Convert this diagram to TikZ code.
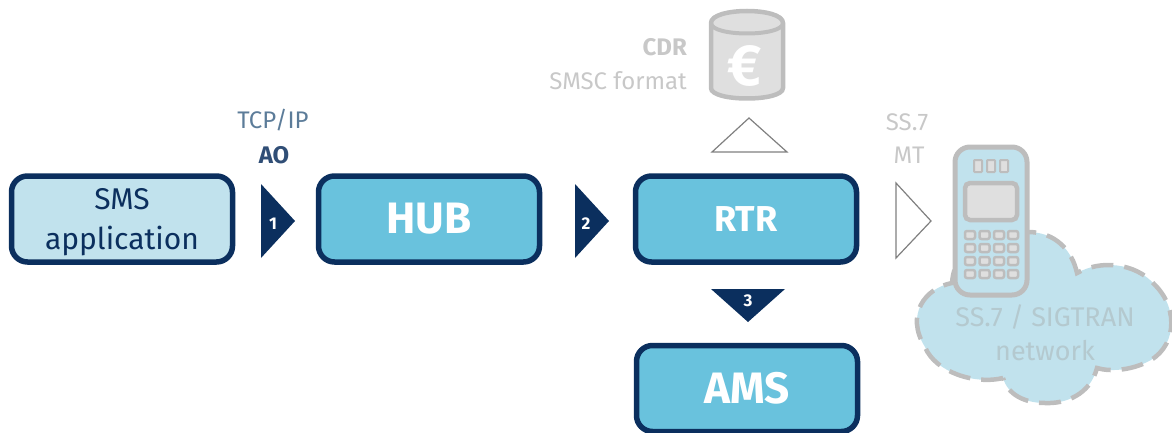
\documentclass[tikz,border=0pt]{standalone}
\usepackage{fontspec}
\setmainfont{Fira Sans}
\definecolor{navy}{HTML}{0B2F5E}
\definecolor{lightb}{HTML}{C1E2ED}
\definecolor{midb}{HTML}{69C2DD}
\definecolor{grayl}{HTML}{BDBDBD}
\definecolor{grayf}{HTML}{DFDFDF}
\definecolor{grayt}{HTML}{C8C8C8}
\definecolor{grayc}{HTML}{B4C9CF}
\definecolor{bluet}{HTML}{5C7C99}
\tikzset{
  boxbase/.style={draw=navy,line width=5.5pt,rounded corners=16pt,minimum width=221pt,inner sep=0pt,text=white},
  midbox/.style={boxbase,fill=midb,minimum height=86pt,font=\fontsize{44}{46}\selectfont\bfseries},
  appbox/.style={boxbase,fill=lightb,minimum height=86pt},
  apptext/.style={inner sep=0pt,text=navy,align=center,font=\fontsize{30}{40}\selectfont},
  lab/.style={inner sep=0pt,font=\fontsize{24}{26}\selectfont},
  navytri/.style={fill=navy,draw=none},
  opentri/.style={draw=gray,line width=1.2pt,fill=white,line join=miter},
  num/.style={inner sep=0pt,text=white,font=\fontsize{17}{17}\selectfont\bfseries},
  phonepart/.style={draw=grayl,fill=grayf,line width=3pt},
  phonekey/.style={draw=grayl,fill=grayf,line width=2.5pt,rounded corners=2pt,minimum width=10pt,minimum height=8pt,inner sep=0pt},
  phonebtn/.style={draw=grayl,fill=grayf,line width=2pt,rounded corners=0.8pt,minimum width=8pt,minimum height=12pt,inner sep=0pt},
}
\begin{document}
\begin{tikzpicture}[x=1pt,y=-1pt]
\useasboundingbox (0,0) rectangle (1172,433);
\node[appbox] (sms) at (122,219) {};
\node[apptext] (smst) at (122,222) {SMS\\application};
\node[midbox] (hub) at (429,219) {HUB};
\node[midbox] (rtr) at (746,219) {\fontsize{36}{38}\selectfont RTR};
\node[midbox] (ams) at (747,388.5) {AMS};
% navy triangles
\fill[navytri] (261,184) -- (295,221) -- (261,258) -- cycle;
\node[num] (n1) at (273,224) {1};
\fill[navytri] (575,184) -- (609,221) -- (575,258) -- cycle;
\node[num] (n2) at (586,224) {2};
\fill[navytri] (711,289) -- (785,289) -- (748,322) -- cycle;
\node[num] (n3) at (748,301) {3};
% open triangles
\draw[opentri] (712,152) -- (749,118) -- (787,152) -- cycle;
\draw[opentri] (896,183) -- (931,221) -- (896,258) -- cycle;
% labels
\node[lab,text=bluet] (tcp) at (273,120) {TCP/IP};
\node[lab,text=navy!85] (ao) at (274,155) {\bfseries AO};
\node[lab,text=grayt] (ss) at (907,122) {SS.7};
\node[lab,text=grayt] (mt) at (909,155) {MT};
\node[lab,text=grayt,anchor=east] (cdr) at (687,47) {\bfseries CDR};
\node[lab,text=grayt,anchor=east] (fmt) at (687,81) {SMSC format};
% cylinder
\draw[draw=grayl,fill=grayf,line width=4.5pt] (711,23) -- (711,88) .. controls (711,102) and (783,102) .. (783,88) -- (783,23) .. controls (783,7) and (711,7) .. (711,23) -- cycle;
\draw[draw=grayl,line width=4pt] (711,23) .. controls (711,37) and (783,37) .. (783,23);
\node[inner sep=0pt,text=white,font=\fontsize{58}{58}\selectfont\bfseries] (euro) at (745,66) {€};
% cloud
\fill[lightb] (1003,378) .. controls (975,385) and (935,372) .. (925,347)
  .. controls (905,315) and (925,288) .. (952,283)
  .. controls (955,240) and (1000,225) .. (1028,232)
  .. controls (1055,232) and (1072,250) .. (1077,273)
  .. controls (1100,260) and (1135,262) .. (1155,285)
  .. controls (1180,310) and (1176,350) .. (1145,363)
  .. controls (1130,370) and (1110,372) .. (1097,368)
  .. controls (1090,395) and (1065,404) .. (1045,403)
  .. controls (1025,403) and (1008,395) .. (1003,378) -- cycle;
\draw[draw=grayl,line width=4.5pt,dash pattern=on 22pt off 11pt,line cap=butt]
  (1003,378) .. controls (975,385) and (935,372) .. (925,347)
  .. controls (905,315) and (925,288) .. (952,283)
  .. controls (955,240) and (1000,225) .. (1028,232)
  .. controls (1055,232) and (1072,250) .. (1077,273)
  .. controls (1100,260) and (1135,262) .. (1155,285)
  .. controls (1180,310) and (1176,350) .. (1145,363)
  .. controls (1130,370) and (1110,372) .. (1097,368)
  .. controls (1090,395) and (1065,404) .. (1045,403)
  .. controls (1025,403) and (1008,395) .. (1003,378);
\node[inner sep=0pt,text=grayc,align=center,font=\fontsize{27}{34}\selectfont] (net) at (1045,333) {SS.7 / SIGTRAN\\network};
% phone
\draw[draw=grayl,fill=lightb,line width=5pt,rounded corners=15pt] (955,147) rectangle (1027,295);
\draw[phonepart,line width=4.5pt,rounded corners=5pt] (965,183) rectangle (1017,220);
\foreach \x in {978,991,1004} \node[phonebtn] at (\x,166) {};
\foreach \y [count=\j] in {235,248,261,274}
  \foreach \x [count=\i] in {970,984.5,999,1013}
    \node[phonekey] (k\j\i) at (\x,\y) {};
\end{tikzpicture}
\end{document}
